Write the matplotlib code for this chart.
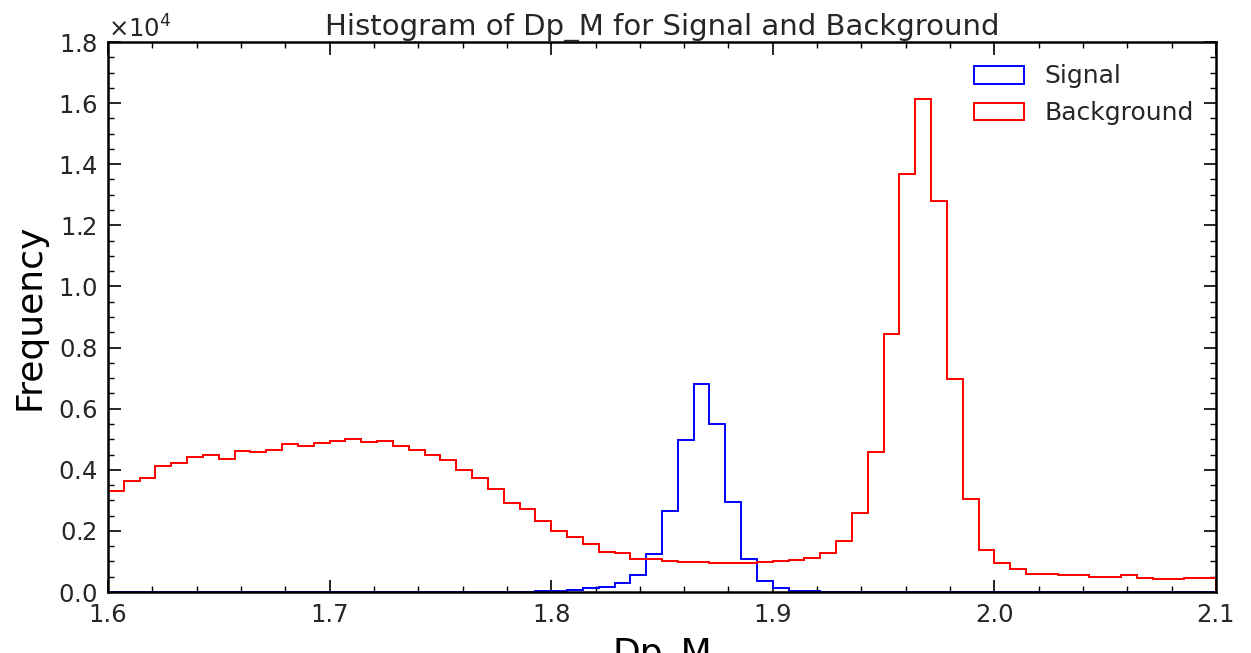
import numpy as np
import matplotlib
matplotlib.use("Agg")
import matplotlib.pyplot as plt
from matplotlib.ticker import MultipleLocator

# 70 bins between 1.6 and 2.1, counts
x_min, x_max, n_bins = 1.6, 2.1, 70

signal_counts = [
    0] * 27 + [
    20, 25, 60, 120, 175, 305, 545, 1243, 2640, 4985,
    6816, 5508, 2945, 1091, 350, 120, 40, 20, 10,
] + [0] * 24

background_counts = [
    3315, 3622, 3740, 4123, 4211, 4407, 4483, 4363, 4614, 4571,
    4636, 4843, 4788, 4886, 4941, 5017, 4919, 4952, 4788, 4636,
    4472, 4319, 3981, 3740, 3360, 2902, 2716, 2334, 1985, 1789,
    1571, 1320, 1265, 1091, 1080, 1025, 982, 971, 938, 960,
    938, 971, 1004, 1047, 1113, 1287, 1669, 2574, 4571, 8432,
    13688, 16132, 12784, 6980, 3033, 1364, 949, 753, 600, 600,
    567, 556, 502, 502, 545, 469, 425, 425, 469, 469,
]

edges = np.linspace(x_min, x_max, n_bins + 1)
centers = 0.5 * (edges[:-1] + edges[1:])

text_col = "#262626"
plt.rcParams["text.color"] = text_col
plt.rcParams["xtick.labelcolor"] = text_col
plt.rcParams["ytick.labelcolor"] = text_col

fig = plt.figure(figsize=(12.51, 6.53), dpi=100)
ax = fig.add_axes([108 / 1251, 1 - 592 / 653, (1216 - 108) / 1251, (592 - 42) / 653])

ax.hist(centers, bins=edges, weights=signal_counts, histtype="step",
        color="blue", linewidth=1.4, label="Signal")
ax.hist(centers, bins=edges, weights=background_counts, histtype="step",
        color="red", linewidth=1.4, label="Background")

ax.set_xlim(x_min, x_max)
ax.set_ylim(0, 18000)
ax.xaxis.set_major_locator(MultipleLocator(0.1))
ax.xaxis.set_minor_locator(MultipleLocator(0.02))
ax.yaxis.set_major_locator(MultipleLocator(2000))
ax.yaxis.set_minor_locator(MultipleLocator(500))
ax.ticklabel_format(axis="y", style="sci", scilimits=(4, 4), useMathText=True)
ax.yaxis.get_offset_text().set_fontsize(17.5)

ax.tick_params(which="both", direction="in", top=True, right=True, labelsize=17.5)
ax.tick_params(which="major", length=9, width=1.2, pad=8)
ax.tick_params(which="minor", length=4.5, width=1.0)
for s in ax.spines.values():
    s.set_linewidth(1.8)

ax.set_title("Histogram of Dp_M for Signal and Background", fontsize=21, pad=5)
ax.set_ylabel("Frequency", fontsize=26, labelpad=8)
ax.set_xlabel("Dp_M", fontsize=26, labelpad=8)

ax.legend(loc="upper right", fontsize=18, frameon=False, handlelength=2.0,
          borderaxespad=0.5)

fig.savefig("out.png", dpi=100)
